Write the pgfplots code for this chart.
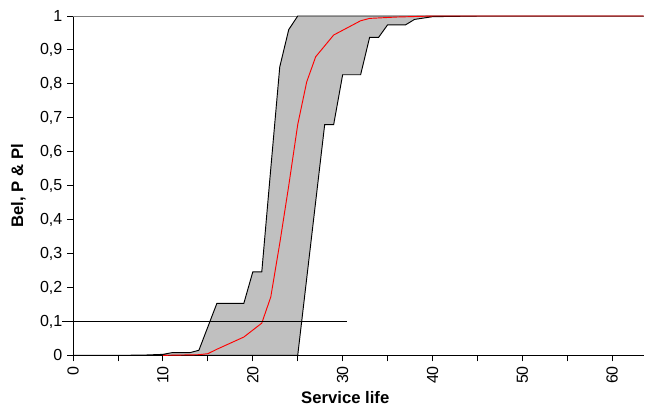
\documentclass[border=0pt]{standalone}
\usepackage{fontspec}
\setmainfont{Liberation Sans}
\usepackage{pgfplots}
\pgfplotsset{compat=1.18}
\definecolor{silver}{RGB}{192,192,192}
\begin{document}
\begin{tikzpicture}
\begin{axis}[
    at={(0,0)}, anchor=origin,
    scale only axis,
    width=427.5pt, height=254.25pt,
    xmin=0, xmax=63.5, ymin=0, ymax=1,
    clip=false,
    axis x line*=bottom, axis y line*=left,
    axis line style={black, line width=0.7pt, -},
    xtick={0,10,20,30,40,50,60},
    minor xtick={5,15,25,35,45,55},
    ytick={0,0.1,0.2,0.3,0.4,0.5,0.6,0.7,0.8,0.9,1},
    tick align=outside,
    major tick length=4.5pt, minor tick length=4.5pt,
    tick style={black, line width=0.7pt},
    /pgf/number format/assume math mode=true,
    yticklabel style={/pgf/number format/fixed, /pgf/number format/precision=1, /pgf/number format/use comma},
    xticklabel style={rotate=90, anchor=east},
    ticklabel style={font=\fontsize{12}{14}\selectfont},
    label style={font=\bfseries\fontsize{12.5}{14}\selectfont},
    xlabel={Service life},
    ylabel={Bel, P \& Pl},
    xlabel style={at={(ticklabel cs:0.477)}, inner sep=1pt, yshift=-1pt},
    ylabel style={at={(ticklabel cs:0.5,4pt)}},
  ]
  % border at the top of the plot area
  \addplot[gray, line width=0.75pt] coordinates {(0,1) (63.5,1)};
  % Pl (left) and Bel (right) bounds, filled between
  \addplot[fill=silver, draw=black, line width=0.7pt] coordinates {
    (0,0) (5,0) (8,0.001) (10,0.003) (11,0.008) (13,0.008) (14,0.015)
    (16,0.153) (19,0.153) (20,0.246) (21,0.246) (22,0.55) (23,0.85)
    (24,0.96) (25,1) (63.5,1)
    (45,1) (40,0.998) (38,0.99) (37,0.974) (35,0.974) (34,0.937)
    (33,0.937) (32,0.827) (30,0.827) (29,0.68) (28,0.68) (25,0) (0,0)
  } -- cycle;
  % P
  \addplot[red, line width=0.7pt] coordinates {
    (10,0) (12,0.001) (14,0.002) (15,0.005) (16,0.018) (17,0.03)
    (19,0.054) (21,0.095) (22,0.172) (23,0.33) (24,0.5) (25,0.68)
    (26,0.806) (27,0.88) (29,0.944) (32,0.986) (33,0.993) (36,0.997)
    (40,1) (63.5,1)
  };
  % 10 % level
  \addplot[black, line width=1.4pt] coordinates {(-1.2,0.1) (30.5,0.1)};
\end{axis}
\pgfresetboundingbox
\path (-54.75pt,-37.5pt) rectangle (428.5pt,266.25pt);
\end{tikzpicture}
\end{document}
